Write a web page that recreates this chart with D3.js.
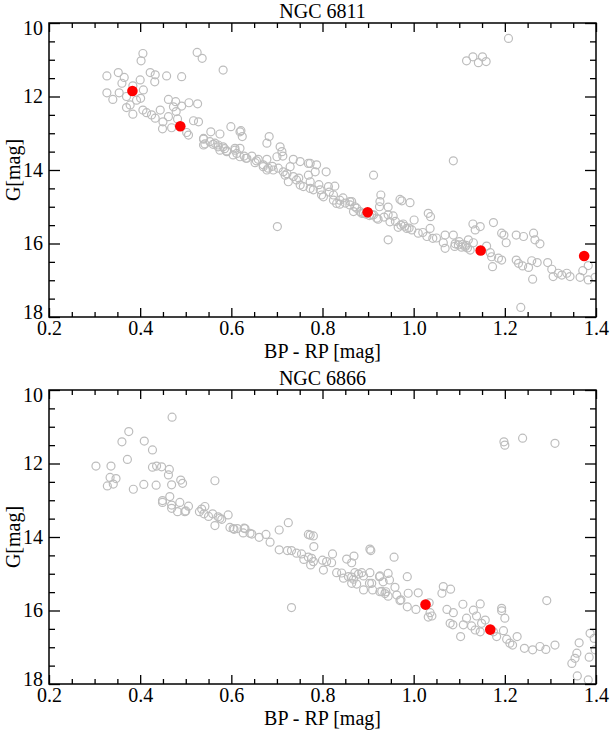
<!DOCTYPE html>
<html>
<head>
<meta charset="utf-8">
<script src="https://cdn.jsdelivr.net/npm/d3@7"></script>
<style>
  body { margin: 0; background: #fff; }
  text { font-family: "Liberation Serif", "Times New Roman", serif; fill: #000; }
</style>
</head>
<body>
<svg id="chart" width="616" height="733"></svg>
<script>
// tick labels
const xTicks = [0.2, 0.4, 0.6, 0.8, 1.0, 1.2, 1.4];
const yTicks = [10, 12, 14, 16, 18];

// NGC 6811: [BP-RP, G]
const ngc6811Stars = [
  [0.327,11.44],[0.352,11.35],[0.365,11.48],[0.327,11.90],[0.340,12.08],[0.354,11.90],[0.360,11.64],[0.370,12.00],
  [0.384,11.71],[0.392,12.10],[0.400,11.55],[0.407,11.82],[0.401,12.05],[0.370,12.30],[0.378,12.23],[0.384,12.48],
  [0.406,10.83],[0.402,11.03],[0.422,11.35],[0.433,11.41],[0.432,11.60],[0.458,11.44],[0.491,11.46],[0.525,10.80],
  [0.536,10.96],[0.582,11.28],[0.406,12.37],[0.414,12.44],[0.425,12.50],[0.433,12.59],[0.444,12.37],[0.450,12.69],
  [0.449,12.88],[0.462,12.08],[0.473,12.28],[0.478,12.14],[0.491,12.26],[0.479,12.41],[0.462,12.55],[0.482,12.61],
  [0.469,12.85],[0.507,12.17],[0.526,12.20],[0.517,12.66],[0.528,12.69],[0.502,12.98],[0.506,13.05],[0.539,13.14],
  [0.555,12.96],[0.575,13.02],[0.599,12.82],[0.619,12.96],[0.624,13.09],[0.542,13.29],[0.553,13.23],[0.564,13.27],
  [0.571,13.37],[0.590,13.50],[0.608,13.41],[0.612,13.55],[0.619,13.64],[0.634,13.68],[0.652,13.80],[0.670,13.86],
  [0.678,14.00],[0.683,13.09],[0.678,13.27],[0.707,13.37],[0.711,13.50],[0.700,13.64],[0.736,13.71],[0.751,13.77],
  [0.729,13.91],[0.714,14.05],[0.736,14.18],[0.769,13.82],[0.769,14.14],[0.621,12.93],[0.539,13.16],[0.571,13.32],
  [0.582,13.37],[0.539,13.32],[0.575,13.46],[0.590,13.48],[0.608,13.46],[0.619,13.41],[0.604,13.59],[0.632,13.68],
  [0.645,13.62],[0.659,13.71],[0.678,13.71],[0.670,13.91],[0.681,13.95],[0.692,14.00],[0.713,13.62],[0.703,13.95],
  [0.718,14.14],[0.743,14.27],[0.725,14.32],[0.758,14.45],[0.773,13.82],[0.787,13.86],[0.784,14.05],[0.808,14.05],
  [0.773,14.32],[0.780,14.54],[0.795,14.54],[0.798,14.68],[0.813,14.45],[0.827,14.44],[0.824,14.68],[0.838,14.82],
  [0.824,14.82],[0.838,14.93],[0.864,14.86],[0.871,15.00],[0.868,15.13],[0.701,15.54],[0.751,14.41],[0.773,14.50],
  [0.802,14.73],[0.831,14.91],[0.860,14.86],[0.886,15.18],[0.912,15.22],[0.919,15.31],[0.944,15.90],[0.912,14.14],
  [0.875,15.04],[0.882,15.13],[0.890,15.18],[0.908,15.22],[0.922,15.34],[0.928,14.68],[0.926,14.86],[0.925,15.00],
  [0.944,15.01],[0.944,15.22],[0.955,15.25],[0.948,15.41],[0.970,14.80],[0.974,14.84],[0.992,14.89],[0.966,15.56],
  [0.977,15.47],[0.985,15.59],[0.996,15.63],[1.001,15.36],[1.010,15.72],[1.029,15.81],[1.032,15.18],[1.037,15.27],
  [1.036,15.59],[1.042,15.86],[1.069,15.77],[1.065,15.98],[1.069,16.13],[1.087,15.77],[1.091,16.01],[1.098,16.04],
  [1.105,16.10],[1.113,16.09],[1.120,15.90],[1.124,16.18],[1.131,15.98],[1.130,15.47],[1.135,15.63],[1.146,15.54],
  [1.160,16.07],[1.168,16.25],[1.171,16.36],[1.175,15.43],[1.173,16.63],[1.186,16.40],[1.193,16.45],[1.193,15.72],
  [1.198,15.77],[1.203,15.98],[1.225,15.77],[1.241,15.81],[1.263,15.72],[1.266,15.90],[1.277,16.01],[1.225,16.45],
  [1.230,16.54],[1.239,16.61],[1.252,16.65],[1.259,16.47],[1.271,16.52],[1.261,16.97],[1.235,17.74],[1.294,16.52],
  [1.303,16.70],[1.306,16.90],[1.317,16.81],[1.325,16.86],[1.336,16.81],[1.343,16.90],[1.365,16.92],[1.371,16.74],
  [1.383,16.60],[1.383,16.99],[1.398,16.92],[1.208,10.42],[1.116,11.03],[1.130,10.92],[1.142,11.08],[1.151,10.92],
  [1.159,11.05],[1.087,13.75],[1.100,15.95],[1.108,16.02],[1.115,16.05],[1.118,16.12],[1.090,16.08],[0.972,15.50],
  [0.980,15.53],[0.990,15.58],[0.895,15.20],[0.903,15.24],[0.860,14.95],[0.850,14.90],
  [0.560,13.30],[0.585,13.42],[0.628,13.62],[0.655,13.75],[0.690,13.90],[0.722,14.10],[0.748,14.22],[0.792,14.40],
  [0.815,14.60],[0.845,14.76],[0.935,15.28],[0.960,15.40],[1.020,15.70],[1.050,15.85]
];
const ngc6811Members = [[0.383,11.85],[0.488,12.81],[0.899,15.15],[1.147,16.19],[1.374,16.34]];

// NGC 6866: [BP-RP, G]
const ngc6866Stars = [
  [0.303,12.07],[0.336,12.07],[0.334,12.38],[0.347,12.41],[0.328,12.61],[0.341,12.56],[0.360,11.41],[0.375,11.13],
  [0.372,11.89],[0.385,12.70],[0.409,11.39],[0.427,11.63],[0.408,12.57],[0.435,12.59],[0.427,12.10],[0.436,12.07],
  [0.447,12.09],[0.464,12.16],[0.462,12.31],[0.470,10.74],[0.469,12.58],[0.489,12.45],[0.493,12.54],[0.564,12.47],
  [0.449,13.01],[0.449,13.06],[0.465,12.90],[0.469,13.13],[0.469,13.22],[0.482,13.31],[0.487,13.06],[0.500,13.29],
  [0.506,13.16],[0.530,13.31],[0.535,13.24],[0.542,13.17],[0.540,13.37],[0.550,13.44],[0.559,13.37],[0.575,13.49],
  [0.593,13.40],[0.564,13.69],[0.597,13.74],[0.604,13.77],[0.613,13.77],[0.630,13.77],[0.626,13.89],[0.645,13.92],
  [0.661,14.01],[0.676,13.93],[0.685,14.14],[0.705,13.81],[0.725,13.61],[0.769,13.93],[0.498,13.31],[0.571,13.45],
  [0.579,13.52],[0.606,13.79],[0.628,13.76],[0.641,13.90],[0.705,14.35],[0.723,14.37],[0.732,14.37],[0.743,14.44],
  [0.754,14.46],[0.759,14.61],[0.769,14.55],[0.776,14.58],[0.780,14.67],[0.774,14.76],[0.780,13.97],[0.781,14.26],
  [0.800,14.63],[0.809,14.67],[0.802,14.90],[0.822,14.46],[0.820,14.70],[0.732,15.92],[0.853,14.60],[0.869,14.52],
  [0.864,14.70],[0.906,14.37],[0.957,14.55],[0.831,14.97],[0.842,14.98],[0.846,15.12],[0.857,15.08],[0.864,15.09],
  [0.871,14.97],[0.879,15.01],[0.864,15.26],[0.875,15.28],[0.890,15.06],[0.904,14.97],[0.890,15.44],[0.903,15.26],
  [0.910,15.44],[0.925,15.08],[0.930,15.48],[0.937,15.54],[0.944,14.99],[0.947,15.17],[0.959,15.37],[0.963,15.58],
  [0.972,15.71],[0.986,15.08],[0.988,15.53],[0.986,15.90],[1.010,15.52],[1.005,15.97],[1.034,15.79],[1.036,16.06],
  [1.040,16.15],[1.032,16.18],[1.062,15.53],[1.065,15.35],[1.081,15.42],[1.073,15.97],[1.087,16.06],[1.080,16.35],
  [1.086,16.39],[1.108,15.83],[1.116,16.21],[1.109,16.39],[1.103,16.71],[1.127,16.42],[1.135,16.53],[1.131,15.99],
  [1.138,16.15],[1.146,15.82],[1.149,16.35],[1.157,16.26],[1.146,16.58],[1.175,16.58],[1.182,16.71],[1.193,15.94],
  [1.193,16.01],[1.200,16.21],[1.197,16.55],[1.204,16.78],[1.211,16.89],[1.217,16.94],[1.227,16.71],[1.243,17.03],
  [1.261,17.07],[1.277,16.98],[1.290,17.06],[1.292,15.73],[1.310,16.94],[1.347,17.44],[1.354,17.30],[1.358,17.16],
  [1.363,16.88],[1.359,17.78],[1.383,17.89],[1.385,17.27],[1.387,16.62],[1.396,16.76],[1.398,17.07],[0.926,15.49],
  [0.939,15.49],[0.944,15.61],[0.970,15.73],[0.908,15.26],[0.933,15.22],[0.868,15.15],[0.886,14.97],[0.926,15.06],
  [1.198,11.41],[1.200,11.50],[1.239,11.31],[1.310,11.45],[0.773,13.95],[0.904,14.33]
];
const ngc6866Members = [[1.026,15.84],[1.168,16.52]];

const svg = d3.select('#chart');
let margin = {left: 49},
    width = 547, height = 294;

let x = d3.scaleLinear().domain([0.2, 1.4]).range([0, width]);
let y = d3.scaleLinear().domain([10, 18]).range([0, height]);

const xMinor = d3.range(0.25, 1.4, 0.05).filter(v => Math.abs(v * 5 - Math.round(v * 5)) > 1e-6);
const yMinor = d3.range(10.5, 18, 0.5).filter(v => Math.abs(v / 2 - Math.round(v / 2)) > 1e-6);

function drawPanel(top, name, stars, members, id) {
    let g = svg.append('g')
        .attr('transform', 'translate(' + margin.left + ',' + top + ')');

    g.append('clipPath').attr('id', id)
        .append('rect').attr('width', width).attr('height', height);

    // grey stars
    g.append('g').attr('clip-path', 'url(#' + id + ')')
        .selectAll('circle')
        .data(stars)
        .enter()
        .append('circle')
        .attr('cx', d => x(d[0]))
        .attr('cy', d => y(d[1]))
        .attr('r', 4)
        .style('fill', 'none')
        .style('stroke', '#bdbdbd')
        .style('stroke-width', 1.2);

    // members in red
    g.append('g')
        .selectAll('circle')
        .data(members)
        .enter()
        .append('circle')
        .attr('cx', d => x(d[0]))
        .attr('cy', d => y(d[1]))
        .attr('r', 5.3)
        .style('fill', '#ff0000');

    // major + minor ticks on all sides, pointing in
    let bottom = g.append('g').attr('transform', 'translate(0,' + height + ')');
    bottom.call(d3.axisBottom(x).tickValues(xTicks).tickSize(-9).tickPadding(4)
        .tickFormat(d3.format('.1f')));
    bottom.append('g').call(d3.axisBottom(x).tickValues(xMinor).tickSize(-5).tickFormat(''));

    let topAx = g.append('g');
    topAx.call(d3.axisTop(x).tickValues(xTicks).tickSize(-9).tickFormat(''));
    topAx.append('g').call(d3.axisTop(x).tickValues(xMinor).tickSize(-5).tickFormat(''));

    let left = g.append('g');
    left.call(d3.axisLeft(y).tickValues(yTicks).tickSize(-11).tickPadding(6));
    left.append('g').call(d3.axisLeft(y).tickValues(yMinor).tickSize(-6).tickFormat(''));
    // keep end labels inside the frame height, as in the original
    left.selectAll('.tick text')
        .attr('dy', d => d === 10 ? '0.55em' : d === 18 ? '0.05em' : '0.32em');

    let right = g.append('g').attr('transform', 'translate(' + width + ',0)');
    right.call(d3.axisRight(y).tickValues(yTicks).tickSize(-11).tickFormat(''));
    right.append('g').call(d3.axisRight(y).tickValues(yMinor).tickSize(-6).tickFormat(''));

    g.selectAll('.domain').remove();
    g.selectAll('.tick line').style('stroke', '#000').style('stroke-width', 1.3);
    g.selectAll('.tick text')
        .style('font-family', '"Liberation Serif", "Times New Roman", serif')
        .style('font-size', '20px')
        .style('fill', '#000');

    g.append('rect')
        .attr('width', width).attr('height', height)
        .style('fill', 'none').style('stroke', '#000').style('stroke-width', 1.5);

    g.append('text')
        .attr('x', width / 2).attr('y', -5)
        .style('text-anchor', 'middle')
        .style('font-size', '20px')
        .text(name);

    g.append('text')
        .attr('x', width / 2).attr('y', height + 41)
        .style('text-anchor', 'middle')
        .style('font-size', '20px')
        .text('BP - RP [mag]');

    g.append('text')
        .attr('transform', 'translate(-29,' + (height / 2) + ') rotate(-90)')
        .style('text-anchor', 'middle')
        .style('font-size', '20px')
        .text('G[mag]');
}

drawPanel(23, 'NGC 6811', ngc6811Stars, ngc6811Members, 'clip1');
drawPanel(390, 'NGC 6866', ngc6866Stars, ngc6866Members, 'clip2');
</script>
</body>
</html>
